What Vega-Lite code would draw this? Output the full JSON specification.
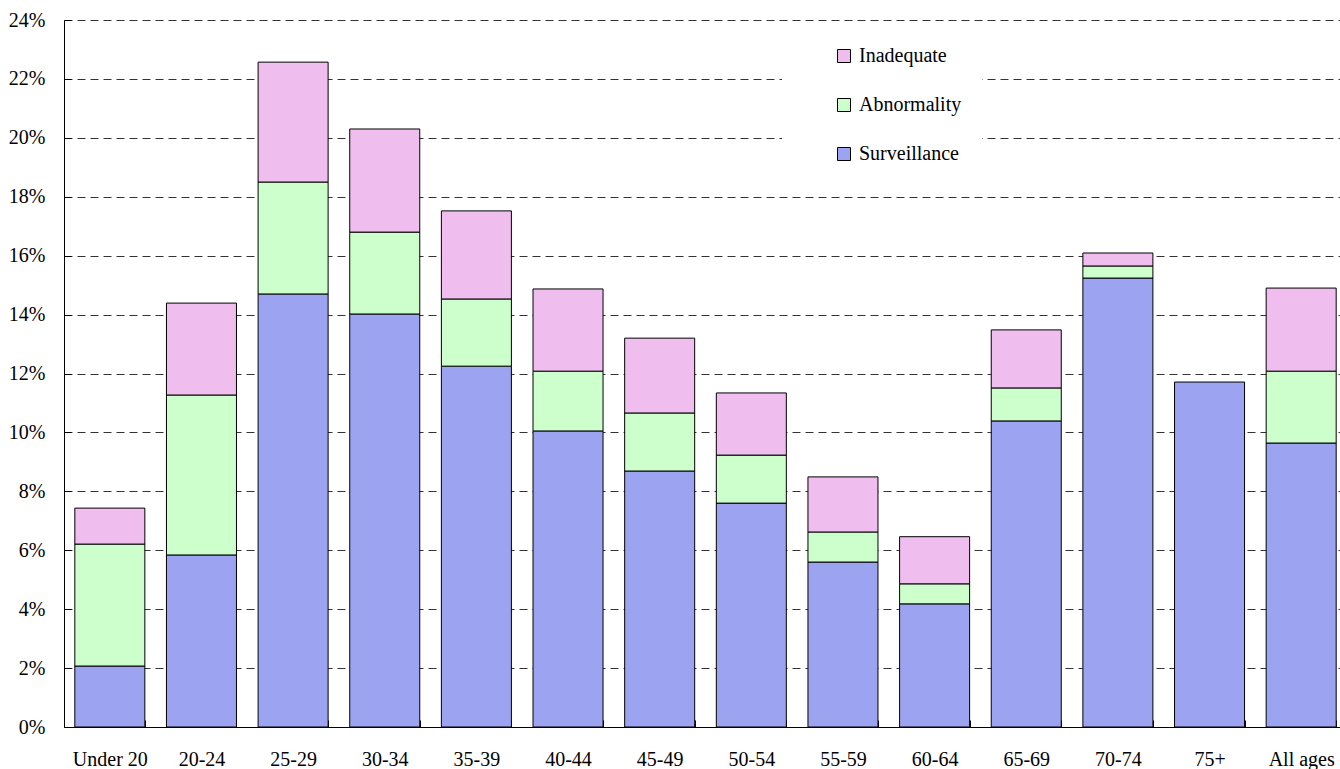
{
  "$schema": "https://vega.github.io/schema/vega-lite/v6.json",
  "width": 1283,
  "height": 707,
  "autosize": {"type": "none"},
  "padding": {"left": 64, "top": 20, "right": 0, "bottom": 42},
  "background": "white",
  "config": {
    "view": {"stroke": null},
    "font": "Liberation Serif"
  },
  "data": {
    "values": [
      {"age": "Under 20", "type": "Surveillance", "value": 2.07, "o": 1},
      {"age": "Under 20", "type": "Abnormality", "value": 4.14, "o": 2},
      {"age": "Under 20", "type": "Inadequate", "value": 1.22, "o": 3},
      {"age": "20-24", "type": "Surveillance", "value": 5.84, "o": 1},
      {"age": "20-24", "type": "Abnormality", "value": 5.43, "o": 2},
      {"age": "20-24", "type": "Inadequate", "value": 3.12, "o": 3},
      {"age": "25-29", "type": "Surveillance", "value": 14.70, "o": 1},
      {"age": "25-29", "type": "Abnormality", "value": 3.80, "o": 2},
      {"age": "25-29", "type": "Inadequate", "value": 4.07, "o": 3},
      {"age": "30-34", "type": "Surveillance", "value": 14.02, "o": 1},
      {"age": "30-34", "type": "Abnormality", "value": 2.78, "o": 2},
      {"age": "30-34", "type": "Inadequate", "value": 3.50, "o": 3},
      {"age": "35-39", "type": "Surveillance", "value": 12.25, "o": 1},
      {"age": "35-39", "type": "Abnormality", "value": 2.28, "o": 2},
      {"age": "35-39", "type": "Inadequate", "value": 2.99, "o": 3},
      {"age": "40-44", "type": "Surveillance", "value": 10.05, "o": 1},
      {"age": "40-44", "type": "Abnormality", "value": 2.03, "o": 2},
      {"age": "40-44", "type": "Inadequate", "value": 2.79, "o": 3},
      {"age": "45-49", "type": "Surveillance", "value": 8.69, "o": 1},
      {"age": "45-49", "type": "Abnormality", "value": 1.97, "o": 2},
      {"age": "45-49", "type": "Inadequate", "value": 2.54, "o": 3},
      {"age": "50-54", "type": "Surveillance", "value": 7.60, "o": 1},
      {"age": "50-54", "type": "Abnormality", "value": 1.63, "o": 2},
      {"age": "50-54", "type": "Inadequate", "value": 2.11, "o": 3},
      {"age": "55-59", "type": "Surveillance", "value": 5.60, "o": 1},
      {"age": "55-59", "type": "Abnormality", "value": 1.02, "o": 2},
      {"age": "55-59", "type": "Inadequate", "value": 1.87, "o": 3},
      {"age": "60-64", "type": "Surveillance", "value": 4.18, "o": 1},
      {"age": "60-64", "type": "Abnormality", "value": 0.68, "o": 2},
      {"age": "60-64", "type": "Inadequate", "value": 1.60, "o": 3},
      {"age": "65-69", "type": "Surveillance", "value": 10.39, "o": 1},
      {"age": "65-69", "type": "Abnormality", "value": 1.12, "o": 2},
      {"age": "65-69", "type": "Inadequate", "value": 1.97, "o": 3},
      {"age": "70-74", "type": "Surveillance", "value": 15.24, "o": 1},
      {"age": "70-74", "type": "Abnormality", "value": 0.41, "o": 2},
      {"age": "70-74", "type": "Inadequate", "value": 0.44, "o": 3},
      {"age": "75+", "type": "Surveillance", "value": 11.71, "o": 1},
      {"age": "All ages", "type": "Surveillance", "value": 9.64, "o": 1},
      {"age": "All ages", "type": "Abnormality", "value": 2.44, "o": 2},
      {"age": "All ages", "type": "Inadequate", "value": 2.82, "o": 3}
    ]
  },
  "mark": {"type": "bar", "stroke": "black", "strokeWidth": 1},
  "encoding": {
    "x": {
      "field": "age",
      "type": "nominal",
      "sort": null,
      "title": null,
      "scale": {"paddingInner": 0.236, "paddingOuter": 0.118},
      "axis": {
        "labelAngle": 0,
        "labelFont": "Liberation Serif",
        "labelFontSize": 20,
        "labelColor": "black",
        "domainColor": "black",
        "domainWidth": 1,
        "tickColor": "black",
        "tickBand": "extent",
        "tickSize": -7,
        "labelPadding": 29,
        "grid": false
      }
    },
    "y": {
      "field": "value",
      "type": "quantitative",
      "stack": "zero",
      "title": null,
      "scale": {"domain": [0, 24], "nice": false},
      "axis": {
        "values": [0, 2, 4, 6, 8, 10, 12, 14, 16, 18, 20, 22, 24],
        "labelExpr": "datum.value + '%'",
        "labelFont": "Liberation Serif",
        "labelFontSize": 20,
        "labelColor": "black",
        "domainColor": "black",
        "tickColor": "black",
        "tickSize": -7,
        "labelPadding": 26,
        "grid": true,
        "gridColor": "#333333",
        "gridDash": [8, 5],
        "gridWidth": 1
      }
    },
    "color": {
      "field": "type",
      "type": "nominal",
      "scale": {
        "domain": ["Inadequate", "Abnormality", "Surveillance"],
        "range": ["#efbdee", "#ccffcc", "#9ca4f2"]
      },
      "legend": {
        "title": null,
        "orient": "none",
        "legendX": 718,
        "legendY": 6,
        "padding": 20,
        "fillColor": "white",
        "symbolType": "square",
        "symbolSize": 169,
        "symbolOffset": 32,
        "symbolStrokeColor": "black",
        "symbolStrokeWidth": 1,
        "symbolOpacity": 1,
        "labelFont": "Liberation Serif",
        "labelFontSize": 20,
        "labelColor": "black",
        "labelOffset": 5,
        "rowPadding": 29
      }
    },
    "order": {"field": "o", "type": "quantitative"}
  }
}
